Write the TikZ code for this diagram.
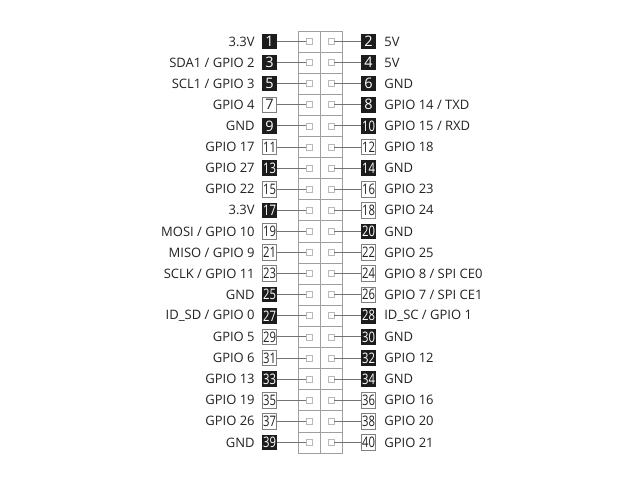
\documentclass[tikz,border=0pt]{standalone}
\usepackage{fontspec}
\setmainfont{Open Sans}
\usetikzlibrary{positioning}
\definecolor{pindark}{HTML}{1C1C1C}
\definecolor{labeltext}{HTML}{222222}
\newcommand{\pinnum}[1]{\fontsize{14.5}{15}\selectfont\ifnum#1<10 #1\else\scalebox{0.78}[1]{#1}\fi}
\tikzset{
    pinb/.style={fill=pindark,text=white},
    pinw/.style={draw=gray,fill=white,text=labeltext},
}
\begin{document}
\begin{tikzpicture}[x=1pt,y=-1pt]
        \useasboundingbox (0,0) rectangle (640,478);
        % header body
        \begin{scope}[draw=gray!75,line width=0.8pt]
            \draw (298,31) rectangle (342,453);
            \draw (320,31)--(320,453);
            \foreach \r in {1,...,19} {\draw (298,31+21.1*\r)--(342,31+21.1*\r);}
        \end{scope}
        \begin{scope}[every node/.style={font=\fontsize{13}{15}\selectfont,inner sep=0pt},
                      pin/.style={minimum width=14.5pt,minimum height=15.5pt,line width=0.8pt},
                      pad/.style={draw=gray!55,line width=0.6pt,minimum size=6pt},
                      wire/.style={line width=0.8pt,draw=black!55}]
            % odd pins
            \foreach \r/\st/\lab in {1/pinb/3.3V, 2/pinb/{SDA1 / GPIO 2}, 3/pinb/{SCL1 / GPIO 3},
                4/pinw/GPIO 4, 5/pinb/GND, 6/pinw/GPIO 17, 7/pinb/GPIO 27, 8/pinw/GPIO 22,
                9/pinb/3.3V, 10/pinw/{MOSI / GPIO 10}, 11/pinw/{MISO / GPIO 9},
                12/pinw/{SCLK / GPIO 11}, 13/pinb/GND, 14/pinb/{ID\_SD / GPIO 0},
                15/pinw/GPIO 5, 16/pinw/GPIO 6, 17/pinb/GPIO 13, 18/pinw/GPIO 19,
                19/pinw/GPIO 26, 20/pinb/GND}
            {
                \pgfmathtruncatemacro\n{2*\r-1}
                \node[pin,\st] (p\n) at (269.5,20.4+21.1*\r) {\pinnum{\n}};
                \node[pad] (s\n) at (309,20.4+21.1*\r) {};
                \node[text=labeltext,left=7pt of p\n] (l\n) {\lab};
                \draw[wire] (p\n.east)--(s\n.west);
            }
            % even pins
            \foreach \r/\st/\lab in {1/pinb/5V, 2/pinb/5V, 3/pinb/GND, 4/pinb/{GPIO 14 / TXD},
                5/pinb/{GPIO 15 / RXD}, 6/pinw/GPIO 18, 7/pinb/GND, 8/pinw/GPIO 23,
                9/pinw/GPIO 24, 10/pinb/GND, 11/pinw/GPIO 25, 12/pinw/{GPIO 8 / SPI CE0},
                13/pinw/{GPIO 7 / SPI CE1}, 14/pinb/{ID\_SC / GPIO 1}, 15/pinb/GND,
                16/pinb/GPIO 12, 17/pinb/GND, 18/pinw/GPIO 16, 19/pinw/GPIO 20,
                20/pinw/GPIO 21}
            {
                \pgfmathtruncatemacro\n{2*\r}
                \node[pin,\st] (p\n) at (368.5,20.4+21.1*\r) {\pinnum{\n}};
                \node[pad] (s\n) at (331,20.4+21.1*\r) {};
                \node[text=labeltext,right=8pt of p\n] (l\n) {\lab};
                \draw[wire] (s\n.east)--(p\n.west);
            }
        \end{scope}
    \end{tikzpicture}
\end{document}
